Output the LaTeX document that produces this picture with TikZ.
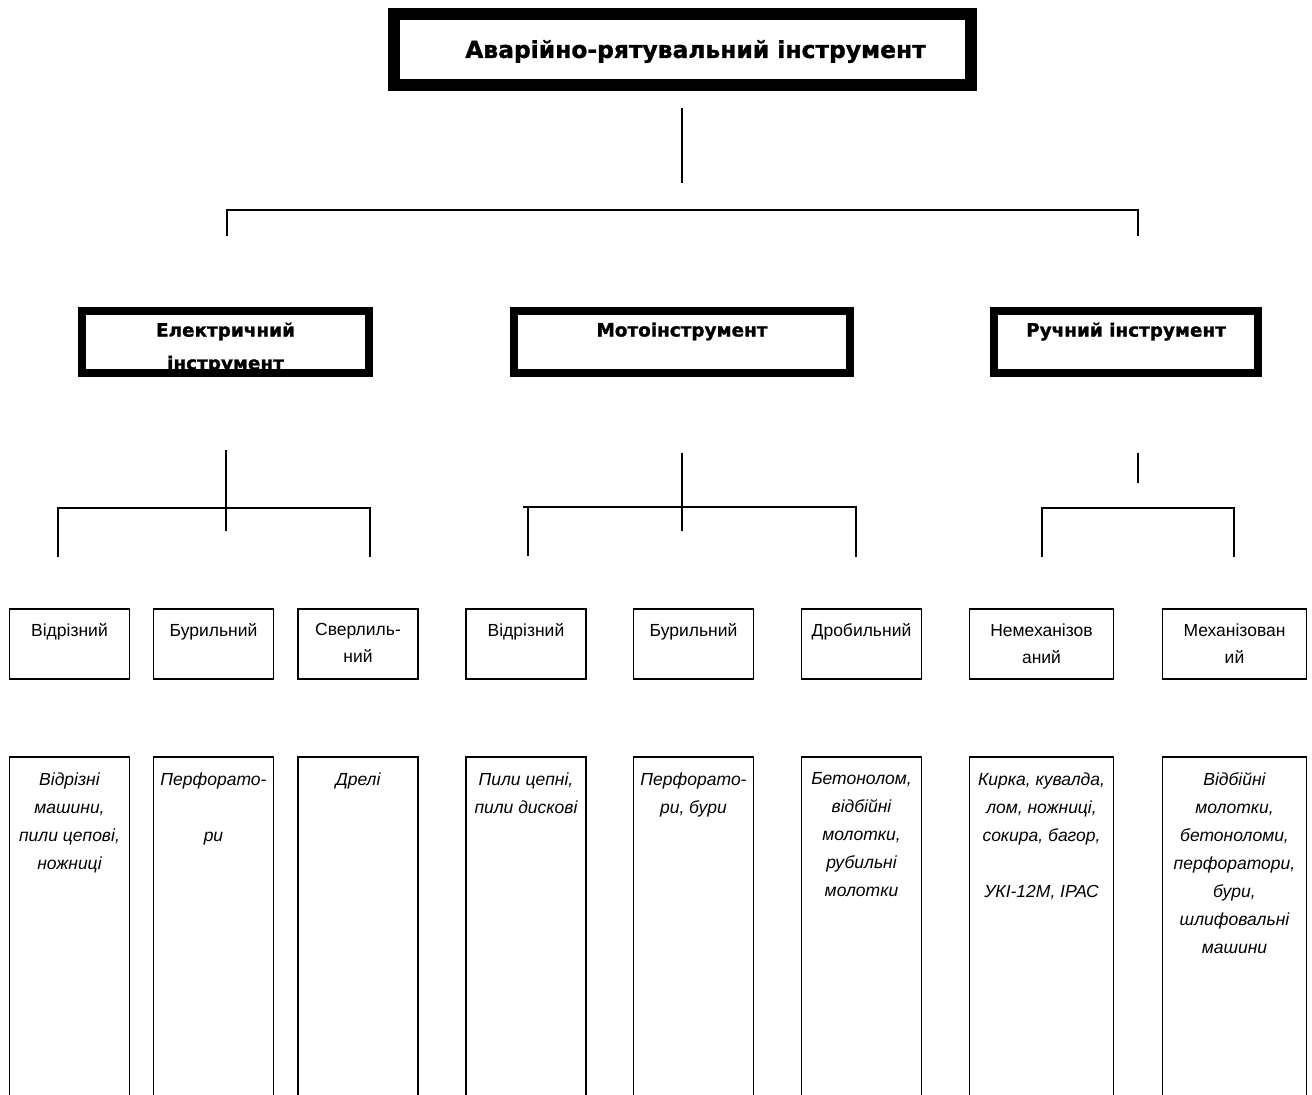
\documentclass[tikz,border=0pt]{standalone}
\usepackage{fontspec}
\setmainfont{Liberation Sans}
\newfontfamily\blackfont{DejaVu Sans Bold}[FakeBold=1.2]
\usetikzlibrary{positioning}

\begin{document}
\begin{tikzpicture}
    [
        x=1pt, y=-1pt,
        root/.style = {draw, shape=rectangle, minimum width=577pt, minimum height=71pt, line width=12pt},
        roottext/.style = {xshift=13pt, yshift=-2pt, font=\blackfont\fontsize{23.4}{26}\selectfont},
        group/.style = {draw, shape=rectangle, minimum height=62pt, line width=8pt},
        grouptext/.style = {anchor=north, yshift=-12pt, align=center, font=\blackfont\fontsize{18.4}{33}\selectfont},
        kind/.style = {draw, shape=rectangle, minimum width=120pt, minimum height=70pt, line width=1.6pt},
        kindtext/.style = {anchor=north, yshift=-12pt, align=center, font=\fontsize{17.5}{27}\selectfont},
        list/.style = {draw, shape=rectangle, minimum width=120pt, minimum height=363pt, line width=1.6pt},
        listtext/.style = {anchor=north, yshift=-13pt, align=center, font=\itshape\fontsize{17.5}{28}\selectfont},
        link/.style = {line width=2pt},
    ]
    \clip (0,0) rectangle (1312,1095);
    \fill[white] (0,0) rectangle (1312,1095);

    \node[root, label={[roottext]center:Аварійно-рятувальний інструмент}] (top) at (682.5,49.5) {};

    \node[group, minimum width=287pt, label={[grouptext]north:Електричний\\інструмент}] (el) at (225.5,342) {};
    \node[group, minimum width=336pt, label={[grouptext]north:Мотоінструмент}] (mo) at (682,342) {};
    \node[group, minimum width=264pt, label={[grouptext]north:Ручний інструмент}] (ha) at (1126,342) {};

    % kinds of tools
    \node[kind, label={[kindtext]north:Відрізний}] (el1) at (69.5,644) {};
    \node[kind, label={[kindtext]north:Бурильний}] (el2) at (213.5,644) {};
    \node[kind, label={[kindtext]north:Сверлиль-\\ний}] (el3) at (358,644) {};
    \node[kind, label={[kindtext]north:Відрізний}] (mo1) at (526,644) {};
    \node[kind, label={[kindtext]north:Бурильний}] (mo2) at (693.5,644) {};
    \node[kind, label={[kindtext]north:Дробильний}] (mo3) at (861.5,644) {};
    \node[kind, minimum width=144pt, label={[kindtext]north:Немеханізов\\аний}] (ha1) at (1041.5,644) {};
    \node[kind, minimum width=144pt, label={[kindtext]north:Механізован\\ий}] (ha2) at (1234.5,644) {};

    % examples
    \node[list, label={[listtext]north:Відрізні\\машини,\\пили цепові,\\ножниці}] (el1x) at (69.5,938.5) {};
    \node[list, label={[listtext]north:Перфорато-\\[28pt]ри}] (el2x) at (213.5,938.5) {};
    \node[list, label={[listtext]north:Дрелі}] (el3x) at (358,938.5) {};
    \node[list, label={[listtext]north:Пили цепні,\\пили дискові}] (mo1x) at (526,938.5) {};
    \node[list, label={[listtext]north:Перфорато-\\ри, бури}] (mo2x) at (693.5,938.5) {};
    \node[list, label={[listtext]north:Бетонолом,\\відбійні\\молотки,\\рубильні\\молотки}] (mo3x) at (861.5,938.5) {};
    \node[list, minimum width=144pt, label={[listtext]north:Кирка, кувалда,\\лом, ножниці,\\сокира, багор,\\[28pt]УКІ-12М, ІРАС}] (ha1x) at (1041.5,938.5) {};
    \node[list, minimum width=144pt, label={[listtext]north:Відбійні\\молотки,\\бетоноломи,\\перфоратори,\\бури,\\шлифовальні\\машини}] (ha2x) at (1234.5,938.5) {};

    % branch lines
    \coordinate (topup) at (682,108);
    \coordinate (topdown) at (682,183);
    \coordinate (topL) at (227,210);
    \coordinate (topR) at (1138,210);
    \draw[link] (topup) -- (topdown);
    \draw[link] (topL) ++(0,26) -- (topL) -- (topR) -- ++(0,26);

    \coordinate (elup) at (226,450);
    \coordinate (eldown) at (226,531);
    \coordinate (elL) at (58,508);
    \coordinate (elR) at (370,508);
    \draw[link] (elup) -- (eldown);
    \draw[link] (elL) ++(0,49) -- (elL) -- (elR) -- ++(0,49);

    \coordinate (moup) at (682,453);
    \coordinate (modown) at (682,531);
    \coordinate (moL) at (523,507);
    \coordinate (moR) at (856,507);
    \draw[link] (moup) -- (modown);
    \draw[link] (moL) -- (moR) -- ++(0,50);
    \draw[link] (moL) ++(5,0) -- ++(0,49);

    \coordinate (haup) at (1138,453);
    \coordinate (hadown) at (1138,483);
    \coordinate (haL) at (1042,508);
    \coordinate (haR) at (1234,508);
    \draw[link] (haup) -- (hadown);
    \draw[link] (haL) ++(0,49) -- (haL) -- (haR) -- ++(0,49);
\end{tikzpicture}
\end{document}
